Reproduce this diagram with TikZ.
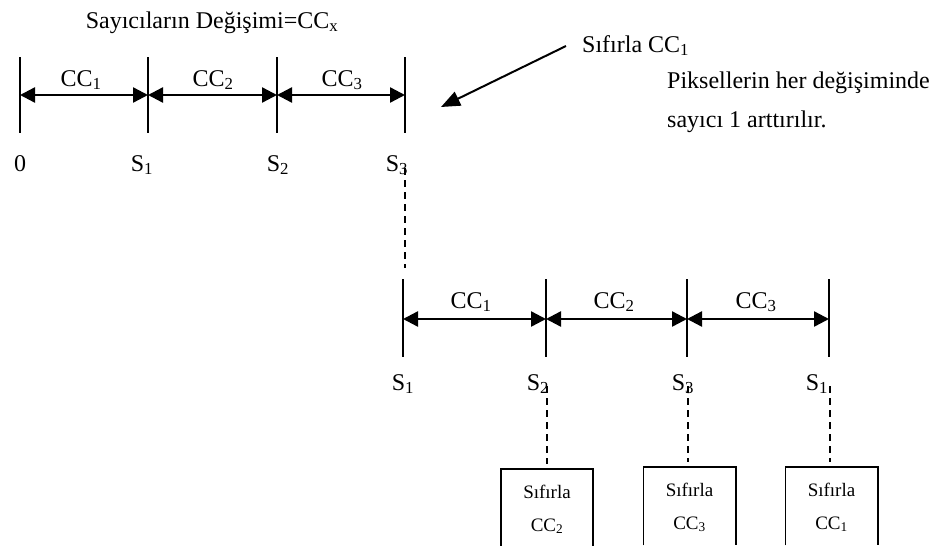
\documentclass[tikz,border=0pt]{standalone}
\usepackage{fontspec}
\setmainfont{Liberation Serif}
\usetikzlibrary{arrows.meta,calc}
\begin{document}
\begin{tikzpicture}[x=1pt,y=-1pt,
  txt/.style={font=\fontsize{24}{28}\selectfont, inner sep=0pt},
  boxtxt/.style={font=\fontsize{19}{22}\selectfont, inner sep=0pt, anchor=base},
  tickline/.style={line width=1.6pt},
  span/.style={line width=2.4pt,
    {Triangle[length=15pt,width=15pt]}-{Triangle[length=15pt,width=15pt]}},
  pointer/.style={line width=2pt, -{Triangle[length=19pt,width=15pt]}},
  link/.style={line width=1.8pt, dash pattern=on 7pt off 5pt},
  resetbox/.style={minimum width=92pt, minimum height=78pt, inner sep=0pt, anchor=north}
]
\useasboundingbox (0,0) rectangle (940,546);

% title
\node[txt, anchor=base] (title) at (212,28) {Sayıcıların Değişimi=CC\textsubscript{x}};

% first counter row
\foreach \i/\x in {0/20,1/148,2/277,3/405}{
  \coordinate (ta\i) at (\x,57);
  \coordinate (ba\i) at (\x,133);
  \coordinate (ma\i) at (\x,95);
  \draw[tickline] (ta\i) -- (ba\i);
}
\foreach \i/\j in {0/1,1/2,2/3}{
  \draw[span] (ma\i) -- (ma\j);
}
\node[txt, anchor=base] (cca1) at (81,86) {CC\textsubscript{1}};
\node[txt, anchor=base] (cca2) at (213,86) {CC\textsubscript{2}};
\node[txt, anchor=base] (cca3) at (342,86) {CC\textsubscript{3}};
\node[txt, anchor=base] (la0) at (20,171) {0};
\node[txt, anchor=base] (la1) at (142,171) {S\textsubscript{1}};
\node[txt, anchor=base] (la2) at (278,171) {S\textsubscript{2}};
\node[txt, anchor=base] (la3) at (397,171) {S\textsubscript{3}};

% note and pointer
\node[txt, anchor=base west] (note) at (582,52) {Sıfırla CC\textsubscript{1}};
\coordinate (ptail) at (566,46);
\coordinate (phead) at (441,107);
\draw[pointer] (ptail) -- (phead);
\node[txt, anchor=base west] (info1) at (667,88) {Piksellerin her değişiminde};
\node[txt, anchor=base west] (info2) at (667,127) {sayıcı 1 arttırılır.};

% second counter row
\foreach \i/\x in {0/403,1/546,2/687,3/829}{
  \coordinate (tb\i) at (\x,279);
  \coordinate (bb\i) at (\x,357);
  \coordinate (mb\i) at (\x,319);
  \draw[tickline] (tb\i) -- (bb\i);
}
\foreach \i/\j in {0/1,1/2,2/3}{
  \draw[span] (mb\i) -- (mb\j);
}
\node[txt, anchor=base] (ccb1) at (471,308) {CC\textsubscript{1}};
\node[txt, anchor=base] (ccb2) at (614,308) {CC\textsubscript{2}};
\node[txt, anchor=base] (ccb3) at (756,308) {CC\textsubscript{3}};
\node[txt, anchor=base] (lb0) at (403,390) {S\textsubscript{1}};
\node[txt, anchor=base] (lb1) at (538,390) {S\textsubscript{2}};
\node[txt, anchor=base] (lb2) at (683,390) {S\textsubscript{3}};
\node[txt, anchor=base] (lb3) at (817,390) {S\textsubscript{1}};

% link from S3 of the first row down to the second row
\coordinate (drop) at (405,168);
\draw[link] (drop) -- ([yshift=11pt]tb0 -| drop);

% reset boxes, open at the lower edge
\foreach \n/\x/\y/\c in {1/547/469/2,2/689.5/467/3,3/831.5/467/1}{
  \node[resetbox] (r\n) at (\x,\y) {};
  \draw[tickline] (r\n.south west) |- (r\n.north east) -- (r\n.south east);
  \node[boxtxt] (rs\n) at ([yshift=-29pt]r\n.north) {Sıfırla};
  \node[boxtxt] (rc\n) at ([yshift=-62pt]r\n.north) {CC\textsubscript{\c}};
}
\coordinate (d1) at (547,386);
\coordinate (d2) at (688,386);
\coordinate (d3) at (830,386);
\draw[link] (d1) -- ([yshift=5pt]r1.north);
\draw[link] (d2) -- ([yshift=5pt]r2.north -| d2);
\draw[link] (d3) -- ([yshift=5pt]r3.north -| d3);
\end{tikzpicture}
\end{document}
